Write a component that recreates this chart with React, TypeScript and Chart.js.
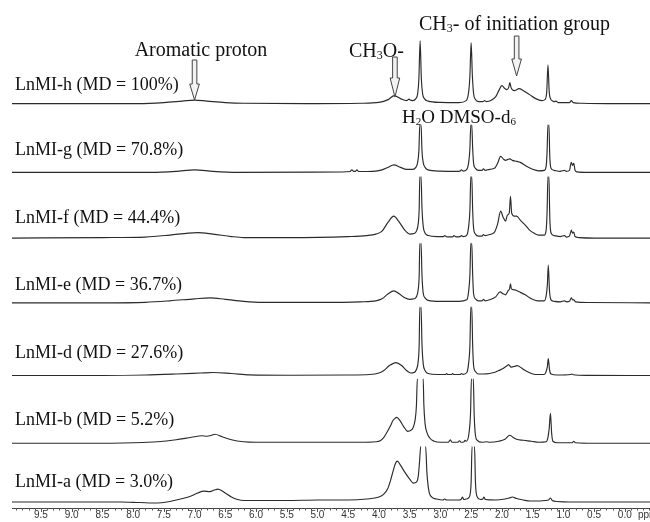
import React, { useEffect, useRef } from 'react';
import { Chart, registerables } from 'chart.js';

Chart.register(...registerables);

// ---------- data ----------
const sampleLabels = [
  'LnMI-h (MD = 100%)',
  'LnMI-g (MD = 70.8%)',
  'LnMI-f (MD = 44.4%)',
  'LnMI-e (MD = 36.7%)',
  'LnMI-d (MD = 27.6%)',
  'LnMI-b (MD = 5.2%)',
  'LnMI-a (MD = 3.0%)',
];

// vertical stacking offset of each trace (intensity units)
const stackOffsets = [406, 337, 271, 206, 133, 65, 6];
// plotted ceiling of each trace (tall solvent peaks are cut off there)
const peakCeilings = [999, 48, 62, 60, 69, 65, 56];

const majorTicks = [9.5, 9.0, 8.5, 8.0, 7.5, 7.0, 6.5, 6.0, 5.5, 5.0, 4.5, 4.0, 3.5, 3.0, 2.5, 2.0, 1.5, 1.0, 0.5, 0.0];

// [ppm, intensity]
const traceH: [number, number][] = [
  [9.97, 0], [7.9, 0], [7.5, 1], [7.2, 2.5], [7.0, 3.5], [6.8, 2.5], [6.5, 1], [6.2, 0.3], [5.0, 0], [4.3, 0.3],
  [4.0, 1.2], [3.85, 4], [3.75, 8], [3.65, 5], [3.55, 3], [3.51, 4.5], [3.49, 3.5], [3.45, 3], [3.40, 5], [3.37, 10],
  [3.35, 25], [3.33, 63], [3.31, 25], [3.29, 10], [3.26, 5], [3.2, 2.5], [3.0, 1.2], [2.7, 1], [2.58, 3], [2.54, 12],
  [2.52, 28], [2.50, 61], [2.48, 28], [2.46, 10], [2.43, 4], [2.38, 2], [2.31, 2], [2.28, 3], [2.25, 2], [2.18, 3],
  [2.10, 7], [2.05, 13], [2.00, 18], [1.95, 15], [1.92, 14], [1.89, 16], [1.87, 21], [1.85, 16], [1.80, 13], [1.72, 15],
  [1.65, 13], [1.55, 9], [1.45, 5], [1.35, 3], [1.30, 4], [1.27, 12], [1.25, 39], [1.23, 12], [1.20, 4], [1.17, 2.5],
  [1.15, 2], [1.12, 2.5], [1.08, 1], [0.9, 1], [0.87, 3], [0.84, 1], [0.7, 0.3], [0.3, 0], [-0.41, 0],
];

const traceG: [number, number][] = [
  [9.97, 0], [7.7, 0], [7.3, 1], [7.0, 2.5], [6.7, 1], [6.3, 0], [4.6, 0.3], [4.47, 0.8], [4.44, 2.5], [4.41, 1],
  [4.38, 1], [4.36, 2.5], [4.33, 0.8], [4.1, 1], [3.95, 2.5], [3.85, 5], [3.76, 7.5], [3.65, 5], [3.55, 3], [3.45, 3],
  [3.40, 5], [3.37, 10], [3.35, 22], [3.335, 48], [3.315, 48], [3.30, 22], [3.28, 10], [3.25, 5], [3.2, 2.5], [3.0, 1.2],
  [2.75, 1], [2.68, 1.2], [2.66, 2.5], [2.63, 1.2], [2.57, 3], [2.54, 10], [2.52, 24], [2.505, 48], [2.49, 48], [2.475, 24],
  [2.46, 9], [2.43, 4], [2.38, 2], [2.32, 2], [2.30, 3.5], [2.27, 2], [2.2, 3], [2.12, 4], [2.07, 9], [2.02, 16],
  [1.97, 13], [1.94, 12], [1.90, 13], [1.87, 13.5], [1.83, 12], [1.76, 11], [1.70, 10], [1.60, 6], [1.50, 3], [1.40, 1.5],
  [1.31, 2], [1.28, 6], [1.265, 20], [1.25, 48], [1.235, 48], [1.22, 15], [1.20, 4], [1.15, 2], [1.05, 1], [0.98, 2],
  [0.95, 1], [0.90, 2], [0.88, 8], [0.87, 10], [0.85, 7], [0.83, 9], [0.81, 2], [0.78, 0.5], [0.6, 0], [-0.41, 0],
];

const traceF: [number, number][] = [
  [9.97, 0], [8.5, 0.5], [7.8, 1], [7.4, 3], [7.1, 5], [6.95, 5.5], [6.7, 4], [6.4, 1.5], [6.2, 0.5], [5.5, 0.5],
  [4.5, 1.5], [4.2, 2.5], [4.05, 4], [3.95, 7], [3.85, 16], [3.76, 22], [3.68, 17], [3.58, 8], [3.50, 4], [3.43, 4.5],
  [3.39, 7], [3.36, 15], [3.345, 30], [3.335, 62], [3.315, 62], [3.30, 30], [3.28, 12], [3.25, 5], [3.2, 2.5], [3.05, 1.5],
  [2.95, 1.5], [2.93, 2.5], [2.90, 1.2], [2.80, 1.2], [2.78, 2.5], [2.75, 1.2], [2.68, 1.5], [2.66, 2.5], [2.63, 1.5], [2.57, 3],
  [2.54, 12], [2.52, 28], [2.505, 62], [2.49, 62], [2.475, 28], [2.46, 10], [2.43, 4], [2.38, 2], [2.32, 2], [2.30, 3.5],
  [2.27, 2.5], [2.2, 3.5], [2.12, 6], [2.07, 14], [2.02, 27], [1.98, 21], [1.94, 17], [1.91, 23], [1.88, 25], [1.86, 42],
  [1.84, 25], [1.80, 22], [1.76, 22], [1.70, 18], [1.62, 13], [1.55, 8], [1.48, 5], [1.40, 3], [1.31, 3], [1.28, 8],
  [1.265, 25], [1.25, 62], [1.235, 62], [1.22, 20], [1.20, 5], [1.15, 2.5], [1.05, 1.5], [0.98, 2.5], [0.95, 1], [0.90, 2],
  [0.88, 6], [0.87, 8], [0.85, 5], [0.83, 6], [0.81, 1.5], [0.75, 0.5], [0.5, 0], [-0.41, 0],
];

const traceE: [number, number][] = [
  [9.97, 0], [8.5, 0], [7.8, 0.5], [7.4, 2], [7.0, 4], [6.75, 5], [6.5, 3.5], [6.2, 1.5], [5.9, 0.5], [5.0, 0.5],
  [4.3, 1], [4.05, 2], [3.95, 4], [3.85, 9], [3.76, 12], [3.67, 9], [3.58, 5], [3.50, 3.5], [3.43, 4], [3.39, 6],
  [3.36, 14], [3.345, 28], [3.335, 60], [3.315, 60], [3.30, 28], [3.28, 10], [3.25, 5], [3.2, 2.5], [3.0, 1.5], [2.7, 1.5],
  [2.57, 3], [2.54, 12], [2.52, 28], [2.505, 60], [2.49, 60], [2.475, 28], [2.46, 9], [2.43, 4], [2.38, 2], [2.32, 2],
  [2.30, 3.5], [2.27, 2], [2.2, 3], [2.1, 6], [2.03, 11], [1.98, 9], [1.94, 8], [1.90, 12], [1.875, 14], [1.86, 19],
  [1.845, 14], [1.79, 13], [1.72, 11], [1.62, 8], [1.52, 4], [1.42, 2], [1.31, 2], [1.28, 7], [1.26, 18], [1.245, 38],
  [1.225, 12], [1.20, 3], [1.15, 1.5], [1.05, 1], [0.98, 2], [0.95, 1], [0.90, 1.5], [0.88, 4], [0.87, 5], [0.85, 3],
  [0.83, 3], [0.80, 1], [0.6, 0.3], [-0.41, 0],
];

const traceD: [number, number][] = [
  [9.97, 0], [8.5, 0], [7.8, 0.5], [7.3, 1.5], [6.9, 2.5], [6.7, 3], [6.4, 2], [6.1, 0.7], [5.5, 0.3], [4.5, 0.5],
  [4.15, 1], [4.0, 2.5], [3.92, 5], [3.83, 10], [3.72, 13], [3.63, 10], [3.55, 5], [3.48, 2.5], [3.43, 3], [3.39, 6],
  [3.36, 15], [3.345, 32], [3.335, 69], [3.315, 69], [3.30, 32], [3.28, 12], [3.25, 5], [3.2, 2], [3.05, 1], [2.92, 1],
  [2.90, 2], [2.88, 1], [2.82, 1], [2.80, 2], [2.78, 1], [2.68, 1], [2.66, 2], [2.63, 1.2], [2.57, 3], [2.54, 13],
  [2.52, 30], [2.505, 69], [2.49, 69], [2.475, 30], [2.46, 10], [2.43, 4], [2.38, 1.5], [2.3, 1.5], [2.2, 2], [2.1, 3.5],
  [2.05, 5], [1.98, 7], [1.91, 10], [1.89, 11], [1.85, 8.5], [1.80, 9], [1.75, 10], [1.68, 7.5], [1.62, 5], [1.52, 2],
  [1.45, 1], [1.31, 1], [1.28, 4], [1.26, 9], [1.245, 17], [1.225, 6], [1.20, 1.5], [1.1, 0.5], [0.88, 1], [0.86, 1.5],
  [0.84, 0.8], [0.6, 0.2], [-0.41, 0],
];

const traceB: [number, number][] = [
  [9.97, 0], [8.8, 0], [8.0, 0.5], [7.6, 1.5], [7.3, 3.5], [7.05, 6], [6.88, 7.5], [6.8, 7], [6.72, 8], [6.67, 9],
  [6.55, 6.5], [6.4, 3.5], [6.2, 1.5], [6.0, 1], [5.0, 1], [4.3, 1], [4.05, 1.5], [3.98, 2.5], [3.92, 6], [3.86, 12],
  [3.80, 19], [3.78, 22], [3.74, 25], [3.71, 26], [3.66, 23], [3.60, 17], [3.53, 12], [3.48, 13], [3.45, 15], [3.41, 24],
  [3.39, 38], [3.375, 65], [3.28, 65], [3.27, 40], [3.25, 20], [3.22, 11], [3.17, 5], [3.1, 2], [3.0, 1], [2.87, 1],
  [2.84, 3.5], [2.81, 1], [2.72, 1], [2.69, 2.5], [2.66, 1], [2.62, 1.2], [2.60, 3], [2.58, 2], [2.54, 8], [2.51, 30],
  [2.495, 65], [2.465, 65], [2.45, 28], [2.43, 8], [2.40, 3], [2.32, 1], [2.25, 1.5], [2.2, 1], [2.05, 2], [1.95, 4],
  [1.87, 8], [1.82, 6], [1.76, 4], [1.65, 3], [1.52, 2], [1.40, 1], [1.28, 1.5], [1.25, 6], [1.23, 15], [1.21, 30],
  [1.19, 10], [1.17, 2], [1.1, 0.5], [0.86, 0.5], [0.83, 2], [0.80, 0.5], [0.5, 0], [-0.41, 0],
];

const traceA: [number, number][] = [
  [9.97, 0], [8.2, 0], [7.9, -0.5], [7.6, -1], [7.45, 0], [7.3, 2], [7.1, 5], [6.95, 9], [6.85, 11], [6.75, 10.5],
  [6.68, 12], [6.62, 13], [6.5, 9], [6.4, 5], [6.3, 2.5], [6.2, 1.5], [5.5, 1.5], [5.0, 2], [4.5, 2], [4.2, 3],
  [4.0, 5], [3.92, 8], [3.86, 13], [3.81, 22], [3.77, 31], [3.73, 39], [3.70, 41], [3.65, 37], [3.58, 30], [3.50, 23],
  [3.44, 19], [3.39, 20], [3.36, 26], [3.34, 40], [3.32, 56], [3.24, 56], [3.22, 30], [3.19, 12], [3.14, 5], [3.06, 3],
  [2.96, 2], [2.93, 3], [2.90, 2], [2.70, 2], [2.66, 3], [2.64, 5], [2.62, 2.5], [2.58, 3], [2.53, 5], [2.50, 20],
  [2.485, 56], [2.445, 56], [2.43, 20], [2.40, 5], [2.35, 2.5], [2.31, 3], [2.29, 5], [2.27, 2.5], [2.1, 2], [1.95, 3],
  [1.88, 4], [1.83, 5], [1.76, 3.5], [1.65, 2], [1.54, 1], [1.40, 1], [1.30, 1.5], [1.24, 2], [1.21, 4], [1.18, 1.5],
  [1.1, 0.5], [0.9, 0], [-0.41, 0],
];

const traces = [traceH, traceG, traceF, traceE, traceD, traceB, traceA];

// ---------- layout / style ----------
const SERIF = '"Liberation Serif", "Times New Roman", serif';
const LINE = '#2b2b2b';
const labelPixelY = [85, 150, 218, 285, 353, 420, 482];

type Part = { t: string; sub?: boolean };

function richWidth(ctx: CanvasRenderingContext2D, parts: Part[], size: number) {
  let w = 0;
  for (const p of parts) {
    ctx.font = `${p.sub ? Math.round(size * 0.6) : size}px ${SERIF}`;
    w += ctx.measureText(p.t).width;
  }
  return w;
}

function drawRich(ctx: CanvasRenderingContext2D, parts: Part[], x: number, y: number, size: number) {
  let cx = x;
  for (const p of parts) {
    ctx.font = `${p.sub ? Math.round(size * 0.6) : size}px ${SERIF}`;
    ctx.fillText(p.t, cx, p.sub ? y + size * 0.1 : y);
    cx += ctx.measureText(p.t).width;
  }
}

function drawArrow(ctx: CanvasRenderingContext2D, cx: number, top: number, headStart: number, tip: number) {
  const sw = 2.3;
  const hw = 4.8;
  ctx.beginPath();
  ctx.moveTo(cx - sw, top);
  ctx.lineTo(cx + sw, top);
  ctx.lineTo(cx + sw, headStart);
  ctx.lineTo(cx + hw, headStart);
  ctx.lineTo(cx, tip);
  ctx.lineTo(cx - hw, headStart);
  ctx.lineTo(cx - sw, headStart);
  ctx.closePath();
  ctx.fillStyle = '#f2f2f2';
  ctx.fill();
  ctx.strokeStyle = '#444';
  ctx.lineWidth = 1;
  ctx.stroke();
}

const annotationPlugin = {
  id: 'nmrAnnotations',
  afterDraw(chart: any) {
    const { ctx, chartArea } = chart;
    const xs = chart.scales.x;
    ctx.save();

    // axis tick marks (minor every 0.1 ppm, major every 0.5 ppm)
    const yb = chartArea.bottom;
    ctx.strokeStyle = '#555';
    ctx.lineWidth = 1;
    for (let i = -4; i <= 99; i++) {
      const px = Math.round(xs.getPixelForValue(i / 10)) + 0.5;
      const len = i % 5 === 0 ? 4 : 2.5;
      ctx.beginPath();
      ctx.moveTo(px, yb);
      ctx.lineTo(px, yb + len);
      ctx.stroke();
    }
    ctx.fillStyle = '#333';
    ctx.font = '10px "Liberation Sans", Arial, sans-serif';
    ctx.textBaseline = 'top';
    ctx.textAlign = 'left';
    ctx.fillText('ppm', 638, yb + 2);

    // sample labels
    ctx.fillStyle = '#111';
    ctx.textBaseline = 'middle';
    ctx.font = `18px ${SERIF}`;
    sampleLabels.forEach((s, i) => ctx.fillText(s, 15, labelPixelY[i]));

    // arrows
    drawArrow(ctx, xs.getPixelForValue(7.0), 60, 84, 100);
    drawArrow(ctx, xs.getPixelForValue(3.74), 57, 78, 97);
    drawArrow(ctx, xs.getPixelForValue(1.76), 36, 59, 76);

    // peak annotations
    ctx.textBaseline = 'alphabetic';
    ctx.fillStyle = '#111';
    const aro: Part[] = [{ t: 'Aromatic proton' }];
    const aw = richWidth(ctx, aro, 20);
    drawRich(ctx, aro, 201 - aw / 2, 56, 20);
    drawRich(ctx, [{ t: 'CH' }, { t: '3', sub: true }, { t: '- of initiation group' }], 419, 30, 20);
    drawRich(ctx, [{ t: 'CH' }, { t: '3', sub: true }, { t: 'O-' }], 349, 57, 20);
    drawRich(ctx, [{ t: 'H' }, { t: '2', sub: true }, { t: 'O DMSO-d' }, { t: '6', sub: true }], 402, 123, 19);

    ctx.restore();
  },
};

export default function App() {
  const ref = useRef<HTMLCanvasElement>(null);

  useEffect(() => {
    if (!ref.current) return;
    const datasets = traces.map((tr, i) => {
      const off = stackOffsets[i];
      const ceil = peakCeilings[i];
      const top = off + ceil;
      return {
        label: sampleLabels[i],
        data: tr.map(([x, v]) => ({ x, y: off + Math.min(v, ceil) })),
        borderColor: LINE,
        borderWidth: 1.15,
        pointRadius: 0,
        fill: false,
        cubicInterpolationMode: 'monotone' as const,
        segment: {
          borderColor: (c: any) =>
            c.p0.parsed.y >= top - 0.01 && c.p1.parsed.y >= top - 0.01 ? 'rgba(0,0,0,0)' : undefined,
        },
      };
    });

    const chart = new Chart(ref.current, {
      type: 'line',
      data: { datasets },
      options: {
        animation: false,
        responsive: true,
        maintainAspectRatio: false,
        layout: { padding: { left: 12, right: 0, top: 0, bottom: 0 } },
        plugins: { legend: { display: false }, tooltip: { enabled: false } },
        scales: {
          x: {
            type: 'linear',
            reverse: true,
            min: -0.41,
            max: 9.97,
            afterBuildTicks: (scale: any) => {
              scale.ticks = majorTicks.map((v) => ({ value: v }));
            },
            grid: { display: false, drawTicks: false },
            border: { display: true, color: '#444', width: 1 },
            ticks: {
              autoSkip: false,
              maxRotation: 0,
              minRotation: 0,
              padding: 2,
              color: '#333',
              font: { family: '"Liberation Sans", Arial, sans-serif', size: 10, lineHeight: 1 },
              callback: (v: any) => Number(v).toFixed(1),
            },
          },
          y: {
            display: false,
            min: 0,
            max: 510,
          },
        },
      },
      plugins: [annotationPlugin],
    });
    return () => chart.destroy();
  }, []);

  return (
    <div style={{ position: 'fixed', left: 0, top: 0, width: 650, height: 522, background: '#fff' }}>
      <canvas ref={ref} />
    </div>
  );
}
